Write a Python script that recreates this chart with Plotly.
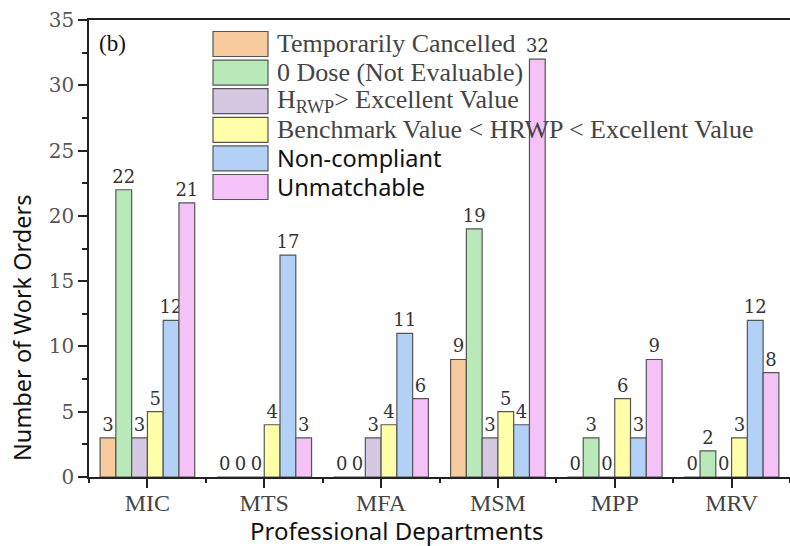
import plotly.graph_objects as go

# Work-order counts per professional department, split by evaluation outcome
departments = ["MIC", "MTS", "MFA", "MSM", "MPP", "MRV"]

series_names = [
    "Temporarily Cancelled",
    "0 Dose (Not Evaluable)",
    "H<sub>RWP</sub>> Excellent Value",
    "Benchmark Value < HRWP < Excellent Value",
    "Non-compliant",
    "Unmatchable",
]
temporarily_cancelled = [3, 0, 0, 9, 0, 0]
zero_dose = [22, 0, 0, 19, 3, 2]
hrwp_above_excellent = [3, 0, 3, 3, 0, 0]
benchmark_to_excellent = [5, 4, 4, 5, 6, 3]
non_compliant = [12, 17, 11, 4, 3, 12]
unmatchable = [21, 3, 6, 32, 9, 8]

series_values = [
    temporarily_cancelled,
    zero_dose,
    hrwp_above_excellent,
    benchmark_to_excellent,
    non_compliant,
    unmatchable,
]
colors = ["#F8CB9E", "#B9E9B9", "#D6C8E2", "#FFFFAA", "#B3D1F6", "#F4C2F6"]
legend_fonts = ["Liberation Serif"] * 4 + ["Noto Sans"] * 2
legend_sizes = [26] * 4 + [23.5] * 2
legend_text_colors = ["#444444"] * 4 + ["#111111"] * 2

y_ticks = [0, 5, 10, 15, 20, 25, 30, 35]

SERIF = "Liberation Serif"
WIDE_SERIF = "DejaVu Serif"
SANS = "Noto Sans"

# plot-area geometry in pixels (used to place the hand-drawn legend)
L, T, B, W = 89, 20, 477, 701
H = B - T


def px_x(x):
    return (x - L) / W


def px_y(y):
    return (B - y) / H


fig = go.Figure()

for name, vals, col in zip(series_names, series_values, colors):
    fig.add_trace(go.Bar(
        x=departments,
        y=vals,
        name=name,
        marker=dict(color=col, line=dict(color="#555555", width=1.2)),
        text=[str(v) for v in vals],
        textposition="outside",
        constraintext="none",
        cliponaxis=False,
        textfont=dict(family=WIDE_SERIF, size=18, color="#333333"),
        showlegend=False,
    ))

# Boundary ticks between department groups on an overlaid linear axis
fig.add_trace(go.Scatter(x=[-0.5, 5.5], y=[0, 0], xaxis="x2", mode="lines",
                         line=dict(width=0), hoverinfo="skip", showlegend=False))

# Legend drawn as wide swatches with labels
lx0, lx1 = 213, 268
row_y0 = 44
row_step = 28.6
sw_h = 25
for i, (name, col) in enumerate(zip(series_names, colors)):
    cy = row_y0 + i * row_step
    fig.add_shape(type="rect", xref="paper", yref="paper",
                  x0=px_x(lx0), x1=px_x(lx1),
                  y0=px_y(cy + sw_h / 2), y1=px_y(cy - sw_h / 2),
                  fillcolor=col, line=dict(color="#555555", width=1.2), layer="above")
    fig.add_annotation(xref="paper", yref="paper",
                       x=px_x(lx1 + 7), y=px_y(cy),
                       text=name, showarrow=False, xanchor="left", yanchor="middle",
                       font=dict(family=legend_fonts[i], size=legend_sizes[i],
                                 color=legend_text_colors[i]))

fig.add_annotation(xref="paper", yref="paper", x=px_x(97), y=px_y(43),
                   text="(b)", showarrow=False, xanchor="left", yanchor="middle",
                   font=dict(family=SERIF, size=23, color="#111111"))

# Axis titles
fig.add_annotation(xref="paper", yref="paper", x=px_x(397), y=px_y(530),
                   text="Professional Departments", showarrow=False,
                   xanchor="center", yanchor="middle",
                   font=dict(family=SANS, size=24, color="#111111"))
fig.add_annotation(xref="paper", yref="paper", x=px_x(22), y=px_y(328),
                   text="Number of Work Orders", showarrow=False, textangle=-90,
                   xanchor="center", yanchor="middle",
                   font=dict(family=SANS, size=23.5, color="#111111"))

fig.update_layout(
    width=790, height=546,
    margin=dict(l=L, r=0, t=T, b=546 - B),
    paper_bgcolor="white", plot_bgcolor="white",
    barmode="group", bargap=0.19, bargroupgap=0,
    xaxis=dict(
        range=[-0.5, 5.5], showline=True, mirror=True, linecolor="#222222", linewidth=1.5,
        ticks="outside", ticklen=9, tickwidth=1.5, tickcolor="#222222",
        ticklabelstandoff=-6,
        tickfont=dict(family=SERIF, size=24, color="#444444"),
        showgrid=False, zeroline=False,
    ),
    xaxis2=dict(
        overlaying="x", range=[-0.5, 5.5], side="bottom", anchor="y",
        tickvals=[-0.5, 0.5, 1.5, 2.5, 3.5, 4.5, 5.5], showticklabels=False,
        ticks="outside", ticklen=5, tickwidth=1.5, tickcolor="#222222",
        showgrid=False, zeroline=False, showline=False,
    ),
    yaxis=dict(
        range=[0, 35], tickvals=y_ticks, showline=True, linecolor="#222222",
        linewidth=1.5, ticks="outside", ticklen=9, tickwidth=1.5, tickcolor="#222222",
        minor=dict(dtick=2.5, tick0=0, ticks="outside", ticklen=5, tickcolor="#222222"),
        tickfont=dict(family=WIDE_SERIF, size=20, color="#555555"),
        showgrid=False, zeroline=False,
    ),
)

fig.write_html("out.html")
